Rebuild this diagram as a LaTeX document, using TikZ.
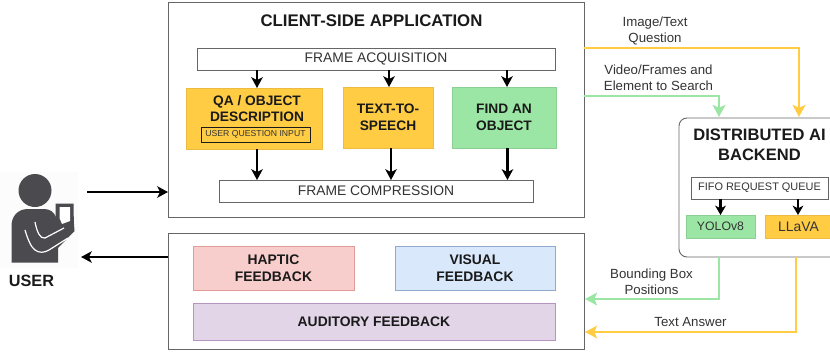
\documentclass[tikz,border=0pt]{standalone}
\usepackage{fontspec}
\setmainfont{Liberation Sans}
\usetikzlibrary{arrows.meta}
\definecolor{edgegray}{HTML}{666666}
\definecolor{ink}{HTML}{1A1A1A}
\definecolor{soft}{HTML}{333333}
\definecolor{yel}{HTML}{FFCC44}
\definecolor{grn}{HTML}{9BE6A5}
\definecolor{hapf}{HTML}{F8CECC}\definecolor{hapd}{HTML}{E39B98}
\definecolor{visf}{HTML}{DAE8FC}\definecolor{visd}{HTML}{8FA9CF}
\definecolor{audf}{HTML}{E1D5E7}\definecolor{audd}{HTML}{B795C2}
\definecolor{icon}{HTML}{4B4B4F}
\tikzset{
 x=0.75pt,y=-0.75pt,
 box/.style={draw=edgegray,line width=0.7pt,fill=white},
 lab/.style={inner sep=0,align=center,text=soft,font=\fontsize{10.4}{12}\selectfont},
 head/.style={inner sep=0,align=center,text=ink,font=\fontsize{10.3}{12.5}\selectfont\bfseries},
 fbhead/.style={inner sep=0,align=center,text=ink,font=\fontsize{10.4}{12.4}\selectfont\bfseries},
 note/.style={inner sep=0,align=center,text=soft,font=\fontsize{9.95}{12}\selectfont},
 flow/.style={-{Stealth[length=8pt,width=8.5pt,inset=2pt]},line width=1.8pt,black},
 sflow/.style={-{Stealth[length=7pt,width=8pt,inset=2pt]},line width=1.8pt,black},
 yflow/.style={-{Stealth[length=9pt,width=9.5pt,inset=2pt]},line width=2.1pt,yel},
 gflow/.style={-{Stealth[length=9pt,width=9.5pt,inset=2pt]},line width=2.1pt,grn},
}
\newcommand{\bx}[6]{\node[#1,minimum width=#4*0.75pt-#2*0.75pt,minimum height=#5*0.75pt-#3*0.75pt,anchor=north west,inner sep=0,outer sep=0] (#6) at (#2,#3) {};}
\begin{document}
\begin{tikzpicture}
\useasboundingbox (0,0) rectangle (830,351);
\clip (0,0) rectangle (830,351);
% user icon
\fill[black!1] (0,172) rectangle (78,268);
\fill[icon] (35,190.5) circle (16.5);
\fill[icon] (11.5,262.5) -- (11.5,226) .. controls (11.5,216) and (18,209) .. (28,209) -- (44,209)
 .. controls (50,209) and (54,212) .. (56,217) -- (61,228) -- (74,224) -- (74.5,231) -- (58,248) -- (58,262.5) -- cycle;
\fill[icon] (55.5,203.5) -- (73.5,203.5) -- (74,230) -- (60,232) -- (55.5,216) -- cycle;
\fill[white] (59.5,207) -- (70,207) -- (70,221) -- (62,224) -- (59.5,218) -- cycle;
\draw[white,line width=0.9pt] (35,222) .. controls (37,232) and (40,239) .. (45,238) -- (64,228);
\draw[white,line width=0.9pt] (25,230) .. controls (28,240) and (31,247) .. (35,250) .. controls (39,253) and (44,253) .. (49,250) -- (68,238);
\node[head,font=\fontsize{12.2}{14}\selectfont\bfseries] (user) at (31.5,280.5) {USER};
% client
\bx{box}{168}{2}{584}{217}{client}
\node[head,font=\fontsize{12.6}{15}\selectfont\bfseries] (clientT) at (371.5,21) {CLIENT-SIDE APPLICATION};
\bx{box}{197}{48}{555}{70}{acq}
\node[lab] at (acq.center) {FRAME ACQUISITION};
\bx{draw=yel!92!black,fill=yel}{186}{88}{322}{149}{qa}
\node[head] (qaT) at (257,108.5) {QA / OBJECT\\DESCRIPTION};
\bx{draw=ink,line width=0.7pt}{201}{127}{310}{142}{uq}
\node[note,font=\fontsize{6.5}{8}\selectfont] at (uq.center) {USER QUESTION INPUT};
\bx{draw=yel!92!black,fill=yel}{343}{87}{433}{148}{tts}
\node[head] at (tts.center) {TEXT-TO-\\SPEECH};
\bx{draw=grn!90!black,fill=grn}{452}{87}{556}{148}{find}
\node[head] at (find.center) {FIND AN\\OBJECT};
\bx{box}{219}{180}{533}{202}{comp}
\node[lab] at (comp.center) {FRAME COMPRESSION};
\draw[flow] ([xshift=2.25pt]qa.north |- acq.south) -- ([xshift=2.25pt]qa.north);
\draw[flow] ([xshift=0.75pt]tts.north |- acq.south) -- ([xshift=0.75pt]tts.north);
\draw[flow] ([xshift=2.25pt]find.north |- acq.south) -- ([xshift=2.25pt]find.north);
\draw[flow] ([xshift=2.25pt]qa.south) -- ([xshift=2.25pt]qa.south |- comp.north);
\draw[flow] ([xshift=2.25pt]tts.south) -- ([xshift=2.25pt]tts.south |- comp.north);
\draw[flow] ([xshift=2.6pt]find.south) -- ([xshift=2.6pt]find.south |- comp.north);
% feedback
\bx{box}{168}{233}{584}{349}{fb}
\bx{draw=hapd,fill=hapf}{193}{246}{354}{290}{hap}
\node[fbhead] at (hap.center) {HAPTIC\\FEEDBACK};
\bx{draw=visd,fill=visf}{395}{246}{555}{290}{vis}
\node[fbhead] at (vis.center) {VISUAL\\FEEDBACK};
\bx{draw=audd,fill=audf}{193}{303}{555}{340}{aud}
\node[fbhead] at (aud.center) {AUDITORY FEEDBACK};
% backend
\bx{draw=edgegray,line width=0.7pt,fill=white,rounded corners=6pt}{679}{118}{850}{257}{be}
\node[head,font=\fontsize{12.4}{15.4}\selectfont\bfseries] at (759.5,145) {DISTRIBUTED AI\\BACKEND};
\bx{box}{691}{177}{828}{199}{fifo}
\node[note,font=\fontsize{8.2}{10}\selectfont] at (fifo.center) {FIFO REQUEST QUEUE};
\bx{draw=grn!90!black,fill=grn}{686}{215}{755}{238}{yolo}
\node[lab,font=\fontsize{9.2}{12}\selectfont] at (yolo.center) {YOLOv8};
\bx{draw=yel!92!black,fill=yel}{765}{215}{840}{238}{llava}
\node[lab] (llT) at (798.5,226.5) {LLaVA};
\coordinate (fifoA) at (720.5,199);
\coordinate (fifoB) at (798,199);
\draw[sflow] (fifoA) -- (fifoA |- yolo.north);
\draw[sflow] (fifoB) -- (fifoB |- llava.north);
% user arrows
\coordinate (fromUser) at (87,192);
\draw[flow] (fromUser) -- (client.west |- fromUser);
\coordinate (toUser) at (81,257);
\draw[flow] (fb.west |- toUser) -- (toUser);
% backend flows
\coordinate (yA) at (799,117);
\coordinate (gA) at (719,117);
\coordinate (yS) at (584,48);
\coordinate (gS) at (584,96);
\draw[yflow] (yS) -| (yA);
\draw[gflow] (gS) -| (gA);
\coordinate (gB) at (719,257);
\coordinate (yB) at (796,257);
\coordinate (gE) at (585,299);
\coordinate (yE) at (585,332);
\draw[gflow] (gB) |- (gE);
\draw[yflow] (yB) |- (yE);
\node[note] at (655,30.5) {Image/Text\\Question};
\node[note] at (658.5,77.5) {Video/Frames and\\Element to Search};
\node[note] at (651.5,281.5) {Bounding Box\\Positions};
\node[note] at (690.5,321.5) {Text Answer};
\end{tikzpicture}
\end{document}
